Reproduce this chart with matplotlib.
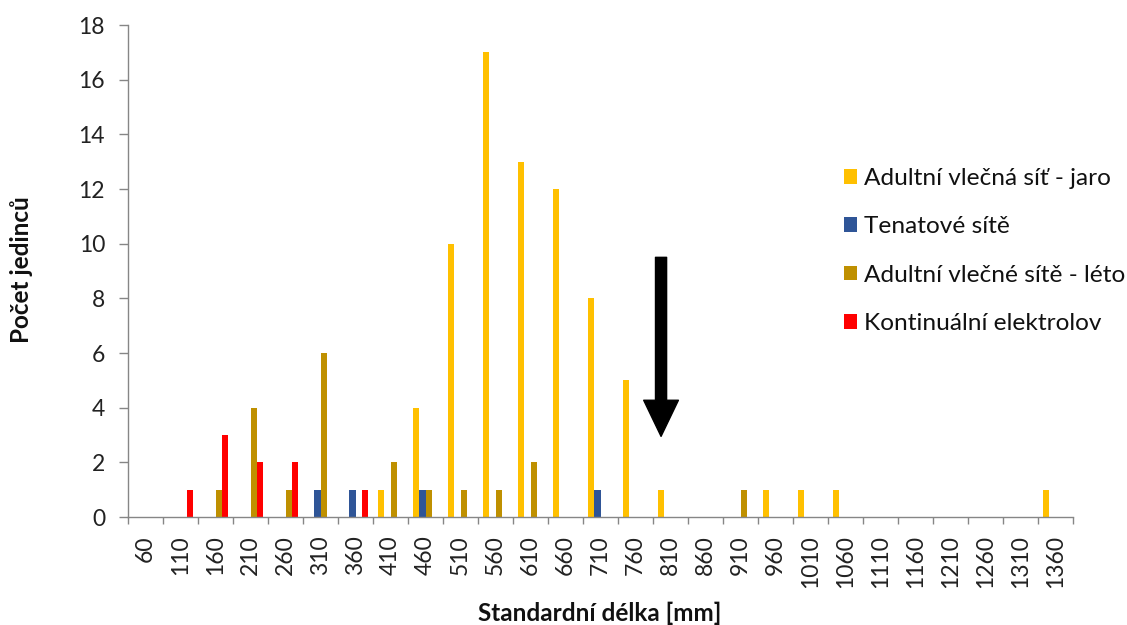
import matplotlib
matplotlib.use("Agg")
import matplotlib.pyplot as plt
import numpy as np

plt.rcParams['font.family'] = ['Lato', 'DejaVu Sans']

# length classes [mm]
categories = [60, 110, 160, 210, 260, 310, 360, 410, 460, 510, 560, 610, 660, 710,
              760, 810, 860, 910, 960, 1010, 1060, 1110, 1160, 1210, 1260, 1310, 1360]

jaro = [0, 0, 0, 0, 0, 0, 0, 1, 4, 10, 17, 13, 12, 8, 5, 1, 0, 0, 1, 1, 1, 0, 0, 0, 0, 0, 1]
tenatove = [0, 0, 0, 0, 0, 1, 1, 0, 1, 0, 0, 0, 0, 1, 0, 0, 0, 0, 0, 0, 0, 0, 0, 0, 0, 0, 0]
leto = [0, 0, 1, 4, 1, 6, 0, 2, 1, 1, 1, 2, 0, 0, 0, 0, 0, 1, 0, 0, 0, 0, 0, 0, 0, 0, 0]
elektrolov = [0, 1, 3, 2, 2, 0, 1, 0, 0, 0, 0, 0, 0, 0, 0, 0, 0, 0, 0, 0, 0, 0, 0, 0, 0, 0, 0]

seriesNames = ['Adultní vlečná síť - jaro', 'Tenatové sítě',
               'Adultní vlečné sítě - léto', 'Kontinuální elektrolov']
seriesColors = ['#FFC000', '#2F5597', '#BF9000', '#FF0000']

W, H = 1127, 625
fig = plt.figure(figsize=(W / 100, H / 100), dpi=100)
ax = fig.add_axes([128 / W, 1 - 517 / H, (1073 - 128) / W, (517 - 25) / H])

x = np.arange(len(categories))
barWidth = 0.18
for i, (vals, name, col) in enumerate(zip([jaro, tenatove, leto, elektrolov], seriesNames, seriesColors)):
    ax.bar(x + (i - 1.5) * barWidth, vals, barWidth, color=col, label=name)

ax.set_xlim(-0.5, len(categories) - 0.5)
ax.set_ylim(0, 18)
ax.set_yticks(range(0, 19, 2))

ax.set_xticks(x)
ax.set_xticklabels([str(c) for c in categories], rotation=90)
ax.set_xticks(np.arange(-0.5, len(categories)), minor=True)
ax.tick_params(axis='x', which='major', length=0, pad=13, labelsize=16.5, colors='#222222')
ax.tick_params(axis='x', which='minor', length=5, width=1, color='#868686')
ax.tick_params(axis='y', length=6.5, width=1, color='#868686', labelsize=16.5, labelcolor='#222222', pad=10)

for s in ['top', 'right']:
    ax.spines[s].set_visible(False)
for s in ['left', 'bottom']:
    ax.spines[s].set_color('#868686')
    ax.spines[s].set_linewidth(1)

fig.text(22 / W, 1 - 270 / H, 'Počet jedinců', rotation=90, fontsize=17.5, fontweight='bold',
         ha='center', va='center', color='#111111')
fig.text(600 / W, 1 - 621 / H, 'Standardní délka [mm]', fontsize=17.5, fontweight='bold',
         ha='center', va='baseline', color='#111111')

# arrow marking a length threshold
ax.annotate('', xy=(14.73, 2.95), xytext=(14.73, 9.5),
            arrowprops=dict(facecolor='black', edgecolor='black', width=8, headwidth=25,
                            headlength=26, shrink=0))

fig.legend(loc='upper left', bbox_to_anchor=(822 / W, 1 - 146 / H), frameon=False, fontsize=17.6,
           handlelength=0.55, handleheight=0.55, handletextpad=0.28, labelspacing=1.12,
           borderpad=0.4, labelcolor='#111111')

fig.savefig('out.png', dpi=100)
